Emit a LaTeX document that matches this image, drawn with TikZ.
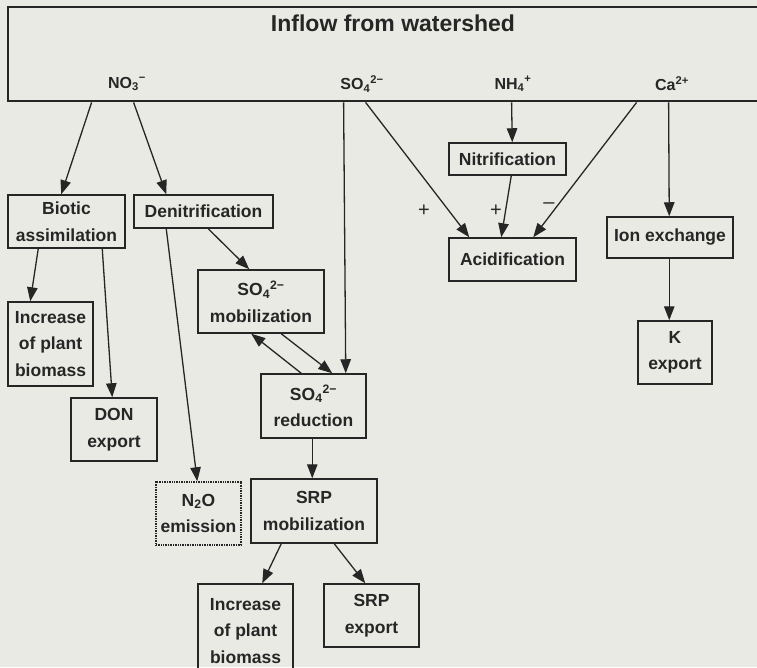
\documentclass[tikz,border=0pt]{standalone}
\usepackage{fontspec}
\setmainfont{Liberation Sans}
\usetikzlibrary{arrows.meta}
\definecolor{bg}{RGB}{234,234,229}
\definecolor{ink}{RGB}{38,38,38}
\newcommand{\boxfont}{\fontsize{17.5}{26.5}\selectfont\bfseries}
\newcommand{\ionfont}{\fontsize{16}{18}\selectfont\bfseries}
\begin{document}
\begin{tikzpicture}[x=1pt,y=-1pt,
  box/.style={draw=ink, line width=1.5pt, inner sep=0pt, align=center, font=\boxfont, text=ink},
  arr/.style={-{Triangle[length=14pt,width=10.5pt]}, line width=1.3pt, draw=ink},
  ion/.style={font=\ionfont, text=ink, inner sep=0pt},
  sign/.style={font=\fontsize{20}{20}\selectfont, text=ink, inner sep=0pt}]
\useasboundingbox[fill=bg] (0,0) rectangle (757,667);
% top box
\node[draw=ink, line width=2.8pt, minimum width=762pt, minimum height=94pt, inner sep=0pt] (top) at (389,54) {};
\node[font=\fontsize{23}{26}\selectfont\bfseries, text=ink, inner sep=0pt] (title) at (393,23) {Inflow from watershed};
\node[ion] (no3) at (127,84) {NO\textsubscript{3}\textsuperscript{−}};
\node[ion] (so4) at (362,84) {SO\textsubscript{4}\textsuperscript{2−}};
\node[ion] (nh4) at (513,84) {NH\textsubscript{4}\textsuperscript{+}};
\node[ion] (ca) at (672,84) {Ca\textsuperscript{2+}};
% boxes
\node[box, minimum width=117pt, minimum height=53pt] (bio) at (66.5,221.5) {Biotic\\assimilation};
\node[box, minimum width=139pt, minimum height=33pt] (den) at (203.5,211.5) {Denitrification};
\node[box, minimum width=126pt, minimum height=63pt] (mob) at (261,301.5) {SO\textsubscript{4}\textsuperscript{2−}\\mobilization};
\node[box, minimum width=85pt, minimum height=84pt] (incL) at (50.5,344) {Increase\\of plant\\biomass};
\node[box, minimum width=86pt, minimum height=63pt] (don) at (114,429.5) {DON\\export};
\node[box, dash pattern=on 1pt off 0.7pt, minimum width=85pt, minimum height=63pt] (n2o) at (198.5,513.5) {N\textsubscript{2}O\\emission};
\node[box, minimum width=105pt, minimum height=64pt] (red) at (313.5,406) {SO\textsubscript{4}\textsuperscript{2−}\\reduction};
\node[box, minimum width=126pt, minimum height=64pt] (srpm) at (314,511) {SRP\\mobilization};
\node[box, minimum width=95pt, minimum height=94pt] (incB) at (245.5,631) {Increase\\of plant\\biomass};
\node[box, minimum width=95pt, minimum height=63pt] (srpe) at (371.5,615.5) {SRP\\export};
\node[box, minimum width=117pt, minimum height=32pt] (nit) at (507.5,159) {Nitrification};
\node[box, minimum width=127pt, minimum height=43pt] (acid) at (512.5,259.5) {Acidification};
\node[box, minimum width=126pt, minimum height=41pt] (ionx) at (670,237.5) {Ion exchange};
\node[box, minimum width=74pt, minimum height=63pt] (kexp) at (675,352.5) {K\\export};
% signs
\node[sign] (p1) at (424,211) {+};
\node[sign] (p2) at (496,211) {+};
\node[sign] (m1) at (549,206) {–};
% connectors from top box
\draw[arr] ([xshift=85pt]top.south west) -- ([xshift=54pt]bio.north west);
\draw[arr] ([xshift=127pt]top.south west) -- ([xshift=33pt]den.north west);
\draw[arr] ([xshift=337pt]top.south west) -- ([xshift=-21pt]red.north east);
\draw[arr] ([xshift=359pt]top.south west) -- ([xshift=21pt]acid.north west);
\draw[arr] ([xshift=505pt]top.south west) -- ([xshift=64pt]nit.north west);
\draw[arr] ([xshift=630pt]top.south west) -- ([xshift=85pt]acid.north west);
\draw[arr] ([xshift=662pt]top.south west) -- ([xshift=63pt]ionx.north west);
% other connectors
\draw[arr] ([xshift=63pt]nit.south west) -- ([xshift=53pt]acid.north west);
\draw[arr] ([xshift=63pt]ionx.south west) -- ([xshift=32pt]kexp.north west);
\draw[arr] ([xshift=31pt]bio.south west) -- ([xshift=23pt]incL.north west);
\draw[arr] ([xshift=95pt]bio.south west) -- ([xshift=42pt]don.north west);
\draw[arr] ([xshift=75pt]den.south west) -- ([xshift=52pt]mob.north west);
\draw[arr] ([xshift=33pt]den.south west) -- ([xshift=42pt]n2o.north west);
\draw[arr] ([xshift=41pt]red.north west) -- ([xshift=54pt]mob.south west);
\draw[arr] ([xshift=84pt]mob.south west) -- ([xshift=72pt]red.north west);
\draw[arr] ([xshift=52pt]red.south west) -- ([xshift=62pt]srpm.north west);
\draw[arr] ([xshift=31pt]srpm.south west) -- ([xshift=65pt]incB.north west);
\draw[arr] ([xshift=84pt]srpm.south west) -- ([xshift=42pt]srpe.north west);
\end{tikzpicture}
\end{document}
